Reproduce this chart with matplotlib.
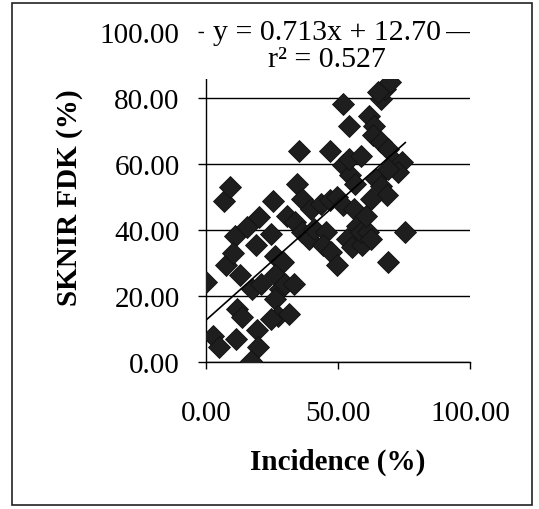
import matplotlib.pyplot as plt
from matplotlib.patches import Rectangle

# -------------------------------
# Data
# -------------------------------
incidence = [0.0, 2.6, 4.9, 6.8, 9.1, 7.8, 11.0, 10.4, 13.0, 11.7,
             13.7, 11.5, 15.6, 20.0, 19.0, 17.6, 20.8, 19.5, 19.8, 17.0,
             25.4, 24.7, 26.0, 29.3, 26.0, 28.0, 30.0, 33.2, 26.0, 27.3,
             24.7, 31.3, 30.6, 33.9, 35.2, 34.5, 36.5, 36.5, 39.0, 41.0,
             39.7, 43.6, 46.9, 46.9, 45.6, 44.3, 47.5, 49.5, 49.5, 52.0,
             52.0, 54.0, 52.0, 54.7, 54.0, 58.6, 56.6, 56.0, 57.3, 53.4,
             55.3, 59.2, 58.6, 61.2, 62.5, 60.5, 61.8, 63.8, 63.2, 66.4,
             66.4, 67.7, 69.7, 65.1, 69.0, 71.6, 74.2, 72.9, 64.5, 66.4,
             68.4, 62.5, 69.0, 75.5, 69.0]
fdk = [24.4, 7.9, 4.5, 48.7, 53.0, 29.3, 38.2, 33.0, 26.3, 16.2,
       13.6, 7.0, 41.0, 44.0, 35.4, 22.2, 23.7, 9.6, 4.5, 0.2,
       48.9, 38.9, 32.3, 30.3, 26.3, 22.2, 23.7, 23.7, 19.2, 14.1,
       13.1, 14.6, 44.4, 42.4, 64.1, 54.0, 49.5, 39.4, 37.4, 40.4,
       46.5, 48.0, 64.1, 49.0, 39.4, 35.4, 33.3, 29.3, 50.0, 47.5,
       78.3, 71.7, 59.6, 56.6, 61.6, 62.6, 54.0, 46.5, 41.4, 37.4,
       34.8, 35.4, 39.4, 39.4, 37.4, 44.4, 74.7, 71.7, 68.7, 66.7,
       79.8, 82.8, 85.0, 81.8, 64.6, 60.6, 60.6, 57.6, 55.5, 53.5,
       50.5, 49.5, 30.3, 39.4, 58.6]

slope = 0.713
intercept = 12.70
r_squared = 0.527

x_ticks = [0, 50, 100]
y_ticks = [0, 20, 40, 60, 80, 100]

plt.rcParams['font.family'] = ['Liberation Serif', 'DejaVu Serif']

fig = plt.figure(figsize=(5.39, 5.10), dpi=100)
ax = fig.add_axes([0.382, 0.288, 0.490, 0.647])

# Scatter of diamonds
ax.plot(incidence, fdk, linestyle='none', marker='D', markersize=11.5,
        markerfacecolor='#1e1e1e', markeredgecolor='#111111',
        markeredgewidth=0.6, zorder=3)

# Linear trendline over the data range
x_fit = [min(incidence), max(incidence)]
y_fit = [slope * v + intercept for v in x_fit]
ax.plot(x_fit, y_fit, color='black', linewidth=1.2, zorder=4)

ax.set_xlim(0, 100)
ax.set_ylim(0, 100)
ax.set_xticks(x_ticks)
ax.set_yticks(y_ticks)
ax.set_xticklabels([f"{v:.2f}" for v in x_ticks])
ax.set_yticklabels([f"{v:.2f}" for v in y_ticks])
ax.tick_params(axis='both', labelsize=21, colors='black', width=1.0)
ax.tick_params(axis='x', direction='out', length=5, pad=22)
ax.tick_params(axis='y', direction='out', length=6, pad=13)

ax.yaxis.grid(True, color='black', linewidth=1.0)
ax.set_axisbelow(True)
for side in ['top', 'right']:
    ax.spines[side].set_visible(False)
for side in ['left', 'bottom']:
    ax.spines[side].set_linewidth(1.0)

ax.set_xlabel('Incidence (%)', fontsize=21, fontweight='bold', labelpad=16)
ax.set_ylabel('SKNIR FDK (%)', fontsize=21, fontweight='bold', labelpad=12)

# Equation label with a white box over the top of the plot area
ax.add_patch(Rectangle((-0.006, 0.858), 0.916, 0.25, transform=ax.transAxes,
                       facecolor='white', edgecolor='none', clip_on=False,
                       zorder=10))
ax.text(45.8, 100, f"y = {slope:.3f}x + {intercept:.2f}", fontsize=21.5,
        ha='center', va='center', zorder=11, clip_on=False)
ax.text(45.8, 91.8, f"r\u00b2 = {r_squared:.3f}", fontsize=21.5,
        ha='center', va='center', zorder=11, clip_on=False)

# Chart border
fig.patches.append(Rectangle((12 / 539, 4 / 510), 520 / 539, 502 / 510,
                             transform=fig.transFigure, fill=False,
                             edgecolor='#222222', linewidth=1.2))

fig.savefig('out.png', dpi=100)
